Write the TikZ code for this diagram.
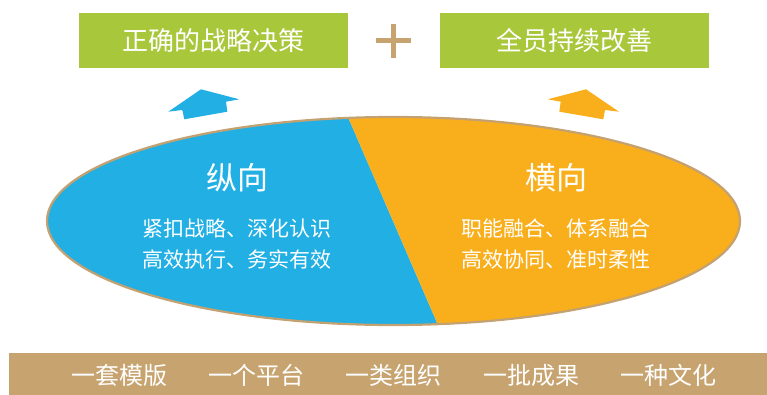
\documentclass[tikz,border=0pt]{standalone}
\usepackage{fontspec}
\newfontfamily\cjk{Noto Sans CJK SC}
\usepackage{xcolor}
\usepackage{tikz}
\usetikzlibrary{positioning}
\definecolor{goalgreen}{HTML}{A9C73A}
\definecolor{basetan}{HTML}{C7A36F}
\definecolor{ringtan}{HTML}{C4A171}
\definecolor{vertblue}{HTML}{21AFE4}
\definecolor{horizorange}{HTML}{F9AF1B}
\begin{document}
\begin{tikzpicture}[
  x=1pt, y=-1pt,
  goalbox/.style={fill=goalgreen, text=white, minimum width=269pt, minimum height=55pt, inner sep=0pt, font=\cjk\fontsize{26}{30}\selectfont},
  headtext/.style={text=white, inner sep=0pt, font=\cjk\fontsize{31}{36}\selectfont},
  bodytext/.style={text=white, align=center, inner sep=0pt, font=\cjk\fontsize{21}{31}\selectfont},
  basetext/.style={text=white, inner sep=0pt, font=\cjk\fontsize{24}{28}\selectfont},
  plusbar/.style={draw=basetan, line width=5pt}
]
\useasboundingbox (0,0) rectangle (767,395);
% top goals
\node[goalbox] (strategy) at (213.5,40.5) {正确的战略决策};
\node[goalbox, right=92pt of strategy] (improve) {全员持续改善};
\coordinate (plus) at (393.5,41);
\draw[plusbar] ([xshift=-17.5pt]plus) -- ([xshift=17.5pt]plus);
\draw[plusbar] ([yshift=17pt]plus) -- ([yshift=-17pt]plus);
% arrows
\fill[vertblue] (201,89.3) -- (239.3,99.3) -- (226,101.7) -- (227.3,111.7) -- (184.3,119.3) -- (182.3,110) -- (168.3,111.7) -- cycle;
\fill[horizorange] (586,89.3) -- (547.7,99.3) -- (560.7,101.7) -- (559.3,111.7) -- (603.3,119.3) -- (605,110) -- (619,111.7) -- cycle;
% split ellipse
\begin{scope}
\clip (393.5,221) ellipse [x radius=346.5, y radius=104];
\fill[vertblue] (0,100) -- (340.6,100) -- (444.5,340) -- (0,340) -- cycle;
\fill[horizorange] (340.6,100) -- (767,100) -- (767,340) -- (444.5,340) -- cycle;
\end{scope}
\draw[ringtan, line width=2.2pt] (393.5,221) ellipse [x radius=346.5, y radius=104];
\node[headtext] (vertical) at (237,178) {纵向};
\node[bodytext, below=26pt of vertical] (verticalbody) {紧扣战略、深化认识\\高效执行、务实有效};
\node[headtext] (horizontal) at (556,178) {横向};
\node[bodytext, below=26pt of horizontal] (horizontalbody) {职能融合、体系融合\\高效协同、准时柔性};
% bottom bar
\fill[basetan] (9,353) rectangle (767,395);
\node[basetext] (template) at (119,375) {一套模版};
\node[basetext, right=41pt of template] (platform) {一个平台};
\node[basetext, right=41pt of platform] (organize) {一类组织};
\node[basetext, right=41pt of organize] (results) {一批成果};
\node[basetext, right=41pt of results] (culture) {一种文化};
\end{tikzpicture}
\end{document}
